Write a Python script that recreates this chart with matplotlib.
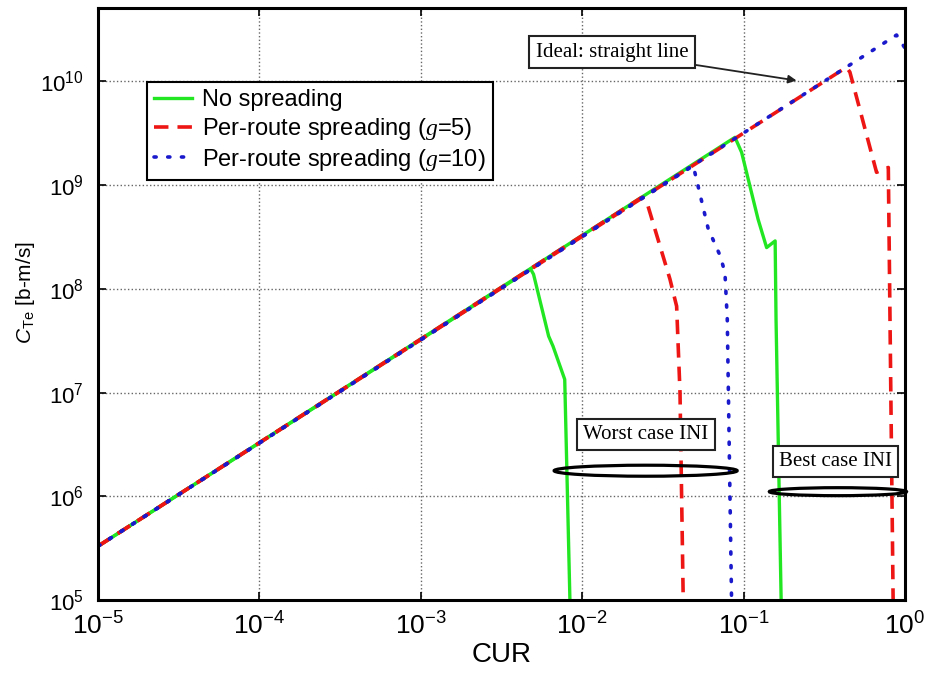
import matplotlib
matplotlib.use("Agg")
import matplotlib.pyplot as plt
from matplotlib.patches import Ellipse

# fonts: Arial-like text, Times-like italic for the "g" in the legend
plt.rcParams['font.family'] = ['Liberation Sans', 'DejaVu Sans']
plt.rcParams['mathtext.fontset'] = 'custom'
plt.rcParams['mathtext.rm'] = 'Liberation Sans'
plt.rcParams['mathtext.it'] = 'Liberation Serif:italic'
plt.rcParams['mathtext.sf'] = 'Liberation Sans:italic'
plt.rcParams['axes.unicode_minus'] = False

# curves (CUR, C_Te); worst case INI and best case INI
green_worst_x = [1e-5, 4.8e-3, 5.0e-3, 6.2e-3, 6.6e-3, 7.8e-3, 8.4e-3]
green_worst_y = [3.3e5, 1.55e8, 1.38e8, 3.5e7, 2.8e7, 1.34e7, 1e5]
green_best_x = [1e-5, 0.0885, 0.0973, 0.123, 0.139, 0.157, 0.159, 0.171]
green_best_y = [3.3e5, 2.89e9, 2.07e9, 4.7e8, 2.5e8, 2.9e8, 5.1e7, 1e5]

red_worst_x = [1e-5, 0.0233, 0.0252, 0.035, 0.0385, 0.0404, 0.0423]
red_worst_y = [3.3e5, 7.6e8, 6.8e8, 1.24e8, 6.8e7, 1.0e7, 1e5]
red_best_x = [1e-5, 0.434, 0.456, 0.667, 0.789, 0.845]
red_best_y = [3.3e5, 1.37e10, 1.23e10, 1.33e9, 1.48e9, 1e5]

blue_worst_x = [1e-5, 0.0488, 0.0537, 0.0604, 0.0715, 0.0767, 0.0793, 0.0843]
blue_worst_y = [3.3e5, 1.54e9, 8.2e8, 3.8e8, 2.1e8, 1.44e8, 5.1e7, 1e5]
blue_best_x = [1e-5, 0.887, 1.0]
blue_best_y = [3.3e5, 2.8e10, 2.1e10]

labels = ["No spreading", "Per-route spreading ($g$=5)", "Per-route spreading ($g$=10)"]
ideal_tip = (0.213, 1.02e10)

fig = plt.figure(figsize=(9.25, 6.75), dpi=100)
ax = fig.add_axes([0.1059, 0.1111, 0.8724, 0.877])

green = '#22e622'
red = '#ee1515'
blue = '#1a1acc'

ax.plot(green_worst_x, green_worst_y, '-', color=green, lw=2.4, label=labels[0])
ax.plot(green_best_x, green_best_y, '-', color=green, lw=2.4)
ax.plot(red_worst_x, red_worst_y, color=red, lw=2.6, dashes=(4, 2.5), label=labels[1])
ax.plot(red_best_x, red_best_y, color=red, lw=2.6, dashes=(4, 2.5))
ax.plot(blue_worst_x, blue_worst_y, color=blue, lw=2.6, dashes=(0.6, 3.2),
        dash_capstyle='round', label=labels[2])
ax.plot(blue_best_x, blue_best_y, color=blue, lw=2.6, dashes=(0.6, 3.2),
        dash_capstyle='round')

ax.set_xscale('log')
ax.set_yscale('log')
ax.set_xlim(1e-5, 1)
ax.set_ylim(1e5, 5.1e10)
ax.minorticks_off()
ax.grid(True, which='major', linestyle=':', color='#666666', lw=1.0)
ax.tick_params(direction='in', top=True, right=True, length=6, width=1.2)
ax.tick_params(axis='x', labelsize=19, pad=9)
ax.tick_params(axis='y', labelsize=16, pad=10)
for s in ax.spines.values():
    s.set_linewidth(2.2)

ax.set_xlabel("CUR", fontsize=20, labelpad=2)
ax.set_ylabel(r"$\mathsf{C}_{\mathrm{Te}}$ [b-m/s]", fontsize=15)
ax.yaxis.set_label_coords(-0.0756, 0.519)

leg = ax.legend(loc='upper left', bbox_to_anchor=(0.0607, 0.875), borderaxespad=0,
                fontsize=17, handlelength=1.6, handletextpad=0.45,
                labelspacing=0.2, borderpad=0.3, fancybox=False, framealpha=1)
leg.get_frame().set_edgecolor('black')
leg.get_frame().set_linewidth(1.5)

boxprops = dict(boxstyle='square,pad=0.3', fc='white', ec='#222222', lw=1.5)
ax.annotate("Ideal: straight line", xy=ideal_tip, xycoords='data',
            xytext=(0.637, 0.9257), textcoords='axes fraction',
            ha='center', va='center', family='Liberation Serif', fontsize=15,
            bbox=boxprops,
            arrowprops=dict(arrowstyle='-|>', color='#222222', lw=1.3,
                            mutation_scale=12, shrinkA=0, shrinkB=0))
ax.text(0.679, 0.280, "Worst case INI", transform=ax.transAxes, ha='center', va='center',
        family='Liberation Serif', fontsize=15, bbox=boxprops)
ax.text(0.914, 0.234, "Best case INI", transform=ax.transAxes, ha='center', va='center',
        family='Liberation Serif', fontsize=15, bbox=boxprops)

ax.add_patch(Ellipse((0.6787, 0.2184), 0.2268, 0.0186, transform=ax.transAxes,
                     fill=False, ec='black', lw=2.3, clip_on=False, zorder=5))
ax.add_patch(Ellipse((0.917, 0.183), 0.17, 0.0135, transform=ax.transAxes,
                     fill=False, ec='black', lw=2.3, clip_on=False, zorder=5))

fig.savefig("out.png", dpi=100)
